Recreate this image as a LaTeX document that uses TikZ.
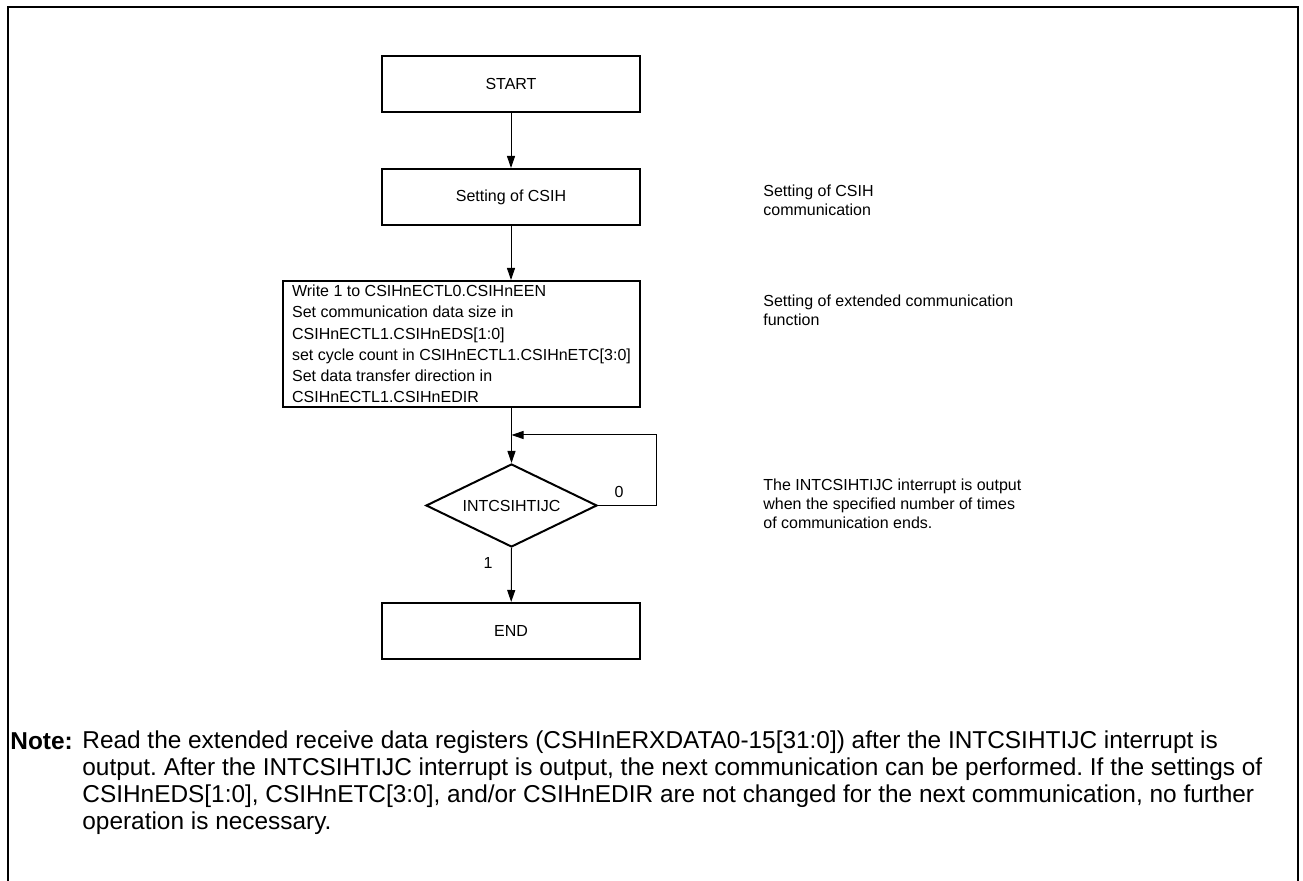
\documentclass[tikz,border=0pt]{standalone}
\usepackage{fontspec}
\setmainfont{Liberation Sans}
\frenchspacing
\usetikzlibrary{shapes.geometric,arrows.meta}

\begin{document}
\begin{tikzpicture}[x=0.5pt, y=-0.5pt,
    every node/.style={font=\fontsize{8}{10.65}\selectfont},
    box/.style={draw, line width=1pt, minimum width=129pt, minimum height=28pt, inner sep=0pt},
    side/.style={anchor=west, align=left, inner sep=0pt, font=\fontsize{8}{9.4}\selectfont},
    arr/.style={-{Triangle[length=6pt,width=4pt]}, line width=0.5pt}]
        \useasboundingbox (0,0) rectangle (1303,881);
        % Frame, open at the bottom
        \draw[line width=1.3pt] (8,881) -- (8,7) -- (1298,7) -- (1298,881);

        % Flow boxes
        \node[box] (start) at (511,84) {START};
        \node[box] (csih) at (511,197) {Setting of CSIH};
        \node[box, minimum width=178.5pt, minimum height=63pt, align=left] (ext) at (461.5,344) {Write 1 to CSIHnECTL0.CSIHnEEN\\Set communication data size in\\CSIHnECTL1.CSIHnEDS[1:0]\\set cycle count in CSIHnECTL1.CSIHnETC[3:0]\\Set data transfer direction in\\CSIHnECTL1.CSIHnEDIR};
        \node[draw, diamond, aspect=2, line width=1pt, minimum width=85.5pt, minimum height=41.5pt, inner sep=0pt] (check) at (511.5,505.5) {INTCSIHTIJC};
        \node[box] (stop) at (511,631) {END};
        \coordinate (loop) at (511.5,435);

        % Side remarks
        \node[side] (remcsih) at (763,200) {Setting of CSIH\\communication};
        \node[side] (remext) at (763,310) {Setting of extended communication\\function};
        \node[side] (remint) at (763,504) {The INTCSIHTIJC interrupt is output\\when the specified number of times\\of communication ends.};

        % Branch labels
        \node (lblzero) at (619,492) {0};
        \node (lblone) at (488,563) {1};

        \draw[arr] (start) -- (csih);
        \draw[arr] (csih) -- (csih |- ext.north);
        \draw[arr] (check |- ext.south) -- (check.north);
        \draw[arr] (check.east) -- ++(58,0) |- (loop);
        \draw[arr] (check.south) -- (stop);

        % Note
        \node[anchor=west, inner sep=0pt, font=\fontsize{12.2}{13.5}\selectfont\bfseries] (notehead) at (10,741) {Note:};
        \node[anchor=north west, align=left, inner sep=0pt, font=\fontsize{12.2}{13.5}\selectfont] (notetext) at (82,730) {Read the extended receive data registers (CSHInERXDATA0-15[31:0]) after the INTCSIHTIJC interrupt is\\output. After the INTCSIHTIJC interrupt is output, the next communication can be performed. If the settings of\\CSIHnEDS[1:0], CSIHnETC[3:0], and/or CSIHnEDIR are not changed for the next communication, no further\\operation is necessary.};
    \end{tikzpicture}
\end{document}
